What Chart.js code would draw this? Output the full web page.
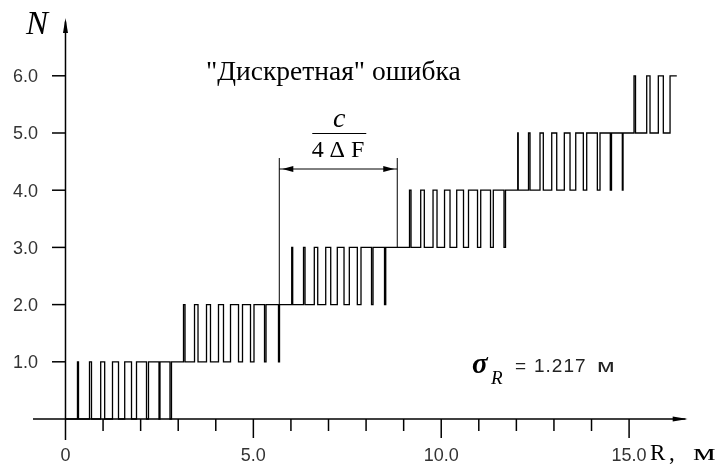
<!DOCTYPE html>
<html>
<head>
<meta charset="utf-8">
<script src="https://cdn.jsdelivr.net/npm/chart.js@4.4.0/dist/chart.umd.min.js"></script>
<style>
html, body { margin: 0; padding: 0; background: #fff; }
canvas { display: block; }
</style>
</head>
<body>
<canvas id="chart" width="716" height="467"></canvas>
<script>
// edges (R, m) where N flips between low and low+1
const levelsLow = [0, 1, 2, 3, 4, 5];
const edges1 = [0.319, 0.346, 0.639, 0.692, 0.937, 1.043, 1.251, 1.411, 1.576, 1.757,
                1.890, 2.156, 2.209, 2.489, 2.515, 2.781, 2.821];
const edges2 = [3.141, 3.181, 3.434, 3.527, 3.753, 3.859, 4.072, 4.205, 4.392, 4.605,
                4.711, 4.924, 5.017, 5.297, 5.337, 5.669, 5.696];
const edges3 = [6.021, 6.047, 6.335, 6.375, 6.622, 6.713, 6.926, 7.059, 7.234, 7.413,
                7.554, 7.767, 7.865, 8.145, 8.185, 8.491, 8.523];
const edges4 = [9.156, 9.196, 9.454, 9.550, 9.782, 9.888, 10.088, 10.234, 10.412, 10.593,
                10.726, 10.966, 11.051, 11.312, 11.386, 11.671, 11.711];
const edges5 = [12.036, 12.049, 12.323, 12.363, 12.629, 12.717, 12.941, 13.074, 13.276, 13.428,
                13.580, 13.782, 13.872, 14.155, 14.226, 14.500, 14.532, 14.820, 14.839];
const edges6 = [15.131, 15.171, 15.469, 15.557, 15.778, 15.911, 16.090];
const curveEnd = 16.27;

const xTicks = [0, 1, 2, 3, 4, 5, 6, 7, 8, 9, 10, 11, 12, 13, 14, 15];
const xMajor = [0, 5, 10, 15];
const xTickLabels = ['0', '5.0', '10.0', '15.0'];
const yTicks = [1, 2, 3, 4, 5, 6];
const yTickLabels = ['1.0', '2.0', '3.0', '4.0', '5.0', '6.0'];
const spanR = [5.69, 8.83];   // c / 4ΔF
const spanN = [2, 3];

const points = [{x: 0, y: 0}];
[edges1, edges2, edges3, edges4, edges5, edges6].forEach((edges, i) => {
    edges.forEach((r, j) => points.push({x: r, y: levelsLow[i] + (j % 2 === 0 ? 1 : 0)}));
});
points.push({x: curveEnd, y: 6});

const SANS = '"Liberation Sans", Arial, sans-serif';
const SERIF = '"Liberation Serif", "Times New Roman", serif';

function seg(ctx, x1, y1, x2, y2) {
    ctx.beginPath();
    ctx.moveTo(x1, y1);
    ctx.lineTo(x2, y2);
    ctx.stroke();
}
function head(ctx, tx, ty, dx, dy, len, half) {
    // filled arrow head, tip at (tx,ty), pointing along (dx,dy)
    ctx.beginPath();
    ctx.moveTo(tx, ty);
    ctx.lineTo(tx - dx * len - dy * half, ty - dy * len + dx * half);
    ctx.lineTo(tx - dx * len + dy * half, ty - dy * len - dx * half);
    ctx.closePath();
    ctx.fill();
}

const decor = {
    id: 'decor',
    beforeDatasetsDraw(chart) {
        const {ctx, scales: {x, y}} = chart;
        const X = v => x.getPixelForValue(v), Y = v => y.getPixelForValue(v);
        ctx.save();
        ctx.strokeStyle = '#000';
        ctx.fillStyle = '#000';
        ctx.lineWidth = 1.5;
        // axes
        seg(ctx, X(-0.865), Y(0), X(16.5), Y(0));
        head(ctx, X(16.56), Y(0), 1, 0, 15, 2.5);
        seg(ctx, X(0), Y(-0.367), X(0), Y(6.95));
        head(ctx, X(0), Y(7.01), 0, -1, 15, 2.5);
        // ticks
        xTicks.forEach(t => {
            if (t === 0) return;
            const len = xMajor.includes(t) ? 19 : 12;
            seg(ctx, X(t), Y(0), X(t), Y(0) + len);
        });
        yTicks.forEach(t => seg(ctx, X(0) - 13.5, Y(t), X(0), Y(t)));

        ctx.fillStyle = '#333';
        ctx.font = '18px ' + SANS;
        ctx.textBaseline = 'middle';
        ctx.textAlign = 'right';
        yTicks.forEach((t, i) => ctx.fillText(yTickLabels[i], 38, Y(t) + 1.5));
        ctx.textAlign = 'center';
        xMajor.forEach((t, i) => ctx.fillText(xTickLabels[i], X(t), 456));

        // c / 4ΔF dimension
        ctx.strokeStyle = '#000';
        ctx.fillStyle = '#000';
        ctx.lineWidth = 1;
        const xa = X(spanR[0]), xb = X(spanR[1]);
        seg(ctx, xa, 158, xa, Y(spanN[0]));
        seg(ctx, xb, 158, xb, Y(spanN[1]));
        seg(ctx, xa, 169, xb, 169);
        head(ctx, xa + 3, 169, -1, 0, 11, 3);
        head(ctx, xb - 3, 169, 1, 0, 11, 3);
        const xm = (xa + xb) / 2 + 1;
        seg(ctx, xm - 27, 133.5, xm + 27, 133.5);
        ctx.textBaseline = 'alphabetic';
        ctx.textAlign = 'center';
        ctx.font = 'italic 28px ' + SERIF;
        ctx.fillText('c', xm, 127);
        ctx.font = '24px ' + SERIF;
        ctx.fillText('4', xm - 21.5, 157);
        ctx.fillText('\u0394', xm - 2, 157);
        ctx.fillText('F', xm + 18.5, 157);

        // texts
        ctx.textAlign = 'left';
        ctx.font = 'italic 33px ' + SERIF;
        ctx.fillText('N', 26, 34);
        ctx.font = '27.5px ' + SERIF;
        ctx.fillText('"Дискретная" ошибка', 206, 80);

        ctx.font = 'italic bold 29px ' + SERIF;
        ctx.fillText('\u03c3', 472, 373);
        ctx.font = 'italic 19px ' + SERIF;
        ctx.fillText('R', 491, 384);
        ctx.fillStyle = '#222';
        ctx.font = '19px ' + SANS;
        ctx.fillText('=', 515, 372);
        ctx.letterSpacing = '1px';
        ctx.fillText('1.217', 534, 372);
        ctx.letterSpacing = '0px';
        ctx.save();
        ctx.translate(597, 372);
        ctx.scale(1.35, 1);
        ctx.fillText('м', 0, 0);
        ctx.restore();

        ctx.fillStyle = '#000';
        ctx.font = '23px ' + SERIF;
        ctx.fillText('R', 650, 460);
        ctx.fillText(',', 669, 460);
        ctx.save();
        ctx.translate(693, 460);
        ctx.scale(1.55, 1);
        ctx.fillText('м', 0, 0);
        ctx.restore();
        ctx.restore();
    }
};

new Chart(document.getElementById('chart'), {
    type: 'line',
    data: {
        datasets: [{
            data: points,
            stepped: true,
            borderColor: '#000',
            borderWidth: 1.3,
            pointRadius: 0,
            fill: false,
            tension: 0
        }]
    },
    options: {
        responsive: false,
        animation: false,
        devicePixelRatio: 1,
        layout: {padding: 0},
        plugins: {legend: {display: false}, tooltip: {enabled: false}},
        scales: {
            x: {type: 'linear', min: -1.743, max: 17.313, display: false},
            y: {type: 'linear', min: -0.839, max: 7.325, display: false}
        }
    },
    plugins: [decor]
});
</script>
</body>
</html>
